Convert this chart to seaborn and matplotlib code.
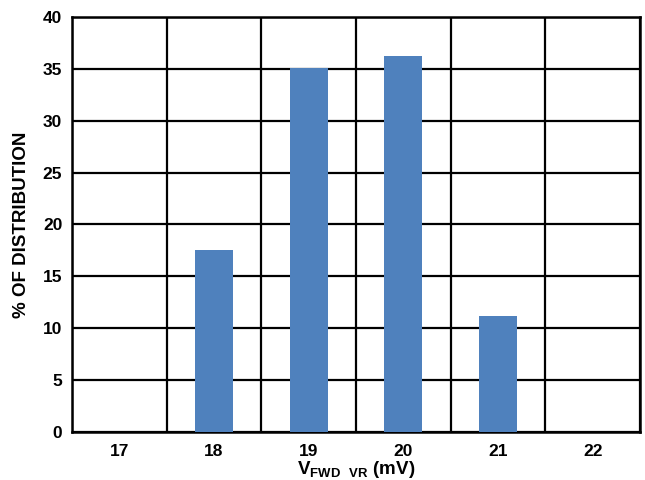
import numpy as np
import pandas as pd
import matplotlib
matplotlib.use("Agg")
import matplotlib.pyplot as plt
import seaborn as sns

# Dados
categorias = ["17", "18", "19", "20", "21", "22"]
percentuais = [0.0, 17.5, 35.1, 36.2, 11.2, 0.0]
yticks = [0, 5, 10, 15, 20, 25, 30, 35, 40]

sns.set_theme(style="white")
plt.rcParams["font.family"] = ["Liberation Sans", "DejaVu Sans"]
plt.rcParams["font.weight"] = "bold"
plt.rcParams["text.color"] = "black"
plt.rcParams["axes.labelcolor"] = "black"
plt.rcParams["xtick.color"] = "black"
plt.rcParams["ytick.color"] = "black"
plt.rcParams["mathtext.fontset"] = "custom"
plt.rcParams["mathtext.rm"] = "Liberation Sans:bold"
plt.rcParams["mathtext.bf"] = "Liberation Sans:bold"

df = pd.DataFrame({"cat": categorias, "pct": percentuais})

fig = plt.figure(figsize=(6.45, 4.8), dpi=100)
ax = fig.add_axes([0.1116, 0.1, 0.8806, 0.8646])

sns.barplot(data=df, x="cat", y="pct", order=categorias, color="#4F81BD",
            width=0.4, saturation=1, linewidth=0, ax=ax, zorder=3)

ax.set_ylim(0, 40)
ax.set_xlim(-0.5, len(categorias) - 0.5)
ax.set_yticks(yticks)
ax.set_xticks(np.arange(-0.5, len(categorias)), minor=True)
ax.grid(axis="y", which="major", color="black", linewidth=1.6, zorder=1)
ax.grid(axis="x", which="minor", color="black", linewidth=1.6, zorder=1)
ax.grid(axis="x", which="major", visible=False)
ax.set_axisbelow(True)

for s in ax.spines.values():
    s.set_color("black")
    s.set_linewidth(1.8)

ax.tick_params(axis="both", which="both", length=0, labelsize=12.5,
               colors="black")
ax.tick_params(axis="y", pad=7)
ax.tick_params(axis="x", pad=9)
for lbl in ax.get_xticklabels() + ax.get_yticklabels():
    lbl.set_fontweight("bold")

ax.set_ylabel("% OF DISTRIBUTION", fontsize=13.5, fontweight="bold", labelpad=9)
ax.set_xlabel(r"V$_{\mathrm{FWD\ \ VR}}$ (mV)", fontsize=13.5, fontweight="bold", labelpad=0)

fig.savefig("out.png", dpi=100)
